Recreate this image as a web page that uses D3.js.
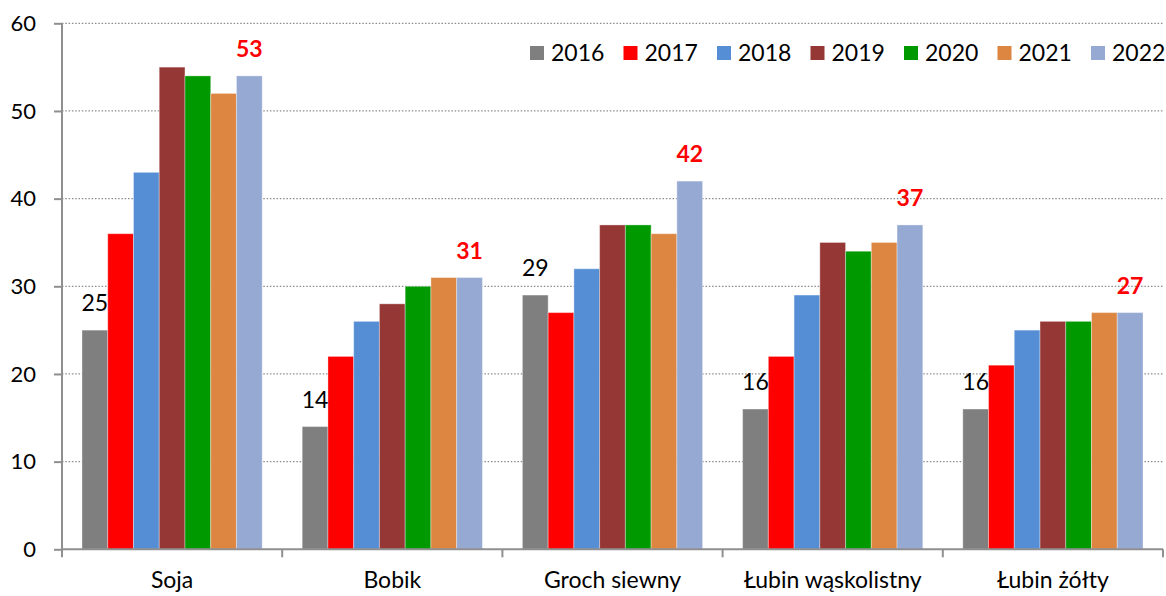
<!DOCTYPE html>
<html>
<head>
<meta charset="utf-8">
<script src="https://cdn.jsdelivr.net/npm/d3@7"></script>
<style>
  html, body { margin: 0; padding: 0; background: #fff; }
  svg { display: block; }
  text { font-family: Lato, "Open Sans", sans-serif; fill: #000; }
</style>
</head>
<body>
<svg id="chart" width="1166" height="596"></svg>
<script>
const categories = ["Soja", "Bobik", "Groch siewny", "Łubin wąskolistny", "Łubin żółty"];
const years = ["2016", "2017", "2018", "2019", "2020", "2021", "2022"];
const colors = ["#7f7f7f", "#ff0000", "#558ed5", "#953735", "#009900", "#dd8642", "#95a9d2"];
const v2016 = [25, 14, 29, 16, 16];
const v2017 = [36, 22, 27, 22, 21];
const v2018 = [43, 26, 32, 29, 25];
const v2019 = [55, 28, 37, 35, 26];
const v2020 = [54, 30, 37, 34, 26];
const v2021 = [52, 31, 36, 35, 27];
const v2022 = [54, 31, 42, 37, 27];
const firstLabels = ["25", "14", "29", "16", "16"];
const lastLabels = ["53", "31", "42", "37", "27"];
const yTicks = [0, 10, 20, 30, 40, 50, 60];

const series = [v2016, v2017, v2018, v2019, v2020, v2021, v2022];

const svg = d3.select("#chart");
const mLeft = 62, mRight = 1163, mTop = 23.3, mBottom = 549.3;

const y = d3.scaleLinear().domain([0, 60]).range([mBottom, mTop]);
const x0 = d3.scaleBand().domain(categories).range([mLeft, mRight]).padding(0);
const x1 = d3.scaleBand().domain(years).range([20, x0.bandwidth() - 20]).padding(0);

// gridlines
svg.append("g").selectAll("line")
  .data(yTicks.filter(t => t > 0))
  .join("line")
  .attr("x1", mLeft).attr("x2", mRight)
  .attr("y1", d => y(d)).attr("y2", d => y(d))
  .attr("stroke", "#8c8c8c")
  .attr("stroke-width", 1.3)
  .attr("stroke-dasharray", "1.5,1.8");

// bars
const groups = svg.append("g").selectAll("g")
  .data(categories)
  .join("g")
  .attr("transform", d => `translate(${x0(d)},0)`);

groups.selectAll("rect")
  .data((c, ci) => years.map((yr, si) => ({ yr, si, v: series[si][ci] })))
  .join("rect")
  .attr("x", d => x1(d.yr))
  .attr("y", d => y(d.v))
  .attr("width", x1.bandwidth())
  .attr("height", d => y(0) - y(d.v))
  .attr("fill", d => colors[d.si])
  .attr("stroke", "rgba(255,255,255,0.35)")
  .attr("stroke-width", 1);

// data labels
groups.append("text")
  .attr("x", x1("2016") + x1.bandwidth() / 2)
  .attr("y", (c, ci) => y(v2016[ci]) - 19)
  .attr("text-anchor", "middle")
  .style("font-size", "23px")
  .text((c, ci) => firstLabels[ci]);

groups.append("text")
  .attr("x", x1("2022") + x1.bandwidth() / 2)
  .attr("y", (c, ci) => y(v2022[ci]) - 19)
  .attr("text-anchor", "middle")
  .style("font-size", "23px")
  .style("font-weight", "bold")
  .style("fill", "#ff0000")
  .text((c, ci) => lastLabels[ci]);

// y axis
const yAxis = d3.axisLeft(y).tickValues(yTicks).tickSize(8).tickPadding(18);
const gy = svg.append("g").attr("transform", `translate(${mLeft},0)`).call(yAxis);
gy.select(".domain").attr("stroke", "#8f8f8f").attr("stroke-width", 2).attr("d", `M0,${mTop}V${mBottom}`);
gy.selectAll(".tick line").attr("stroke", "#8f8f8f").attr("stroke-width", 2);
gy.selectAll(".tick text").style("font-size", "22px").style("font-family", "Lato, sans-serif").attr("fill", "#000");

// x axis
const xAxis = d3.axisBottom(x0).tickSize(0).tickPadding(22);
const gx = svg.append("g").attr("transform", `translate(0,${mBottom})`).call(xAxis);
gx.select(".domain").attr("stroke", "#8f8f8f").attr("stroke-width", 2).attr("d", `M${mLeft},0H${mRight}`);
gx.selectAll(".tick text").style("font-size", "23px").style("font-family", "Lato, sans-serif").attr("fill", "#000");
// boundary tick marks
const bounds = categories.map(c => x0(c)).concat([mRight]);
gx.append("g").selectAll("line")
  .data(bounds)
  .join("line")
  .attr("x1", d => d).attr("x2", d => d)
  .attr("y1", 0).attr("y2", 8)
  .attr("stroke", "#8f8f8f").attr("stroke-width", 2);

// legend
const legend = svg.append("g").selectAll("g")
  .data(years)
  .join("g")
  .attr("transform", (d, i) => `translate(${530 + i * 93.5},46)`);
legend.append("rect")
  .attr("width", 14).attr("height", 14)
  .attr("fill", (d, i) => colors[i]);
legend.append("text")
  .attr("x", 21).attr("y", 15)
  .style("font-size", "23px")
  .text(d => d);
</script>
</body>
</html>
